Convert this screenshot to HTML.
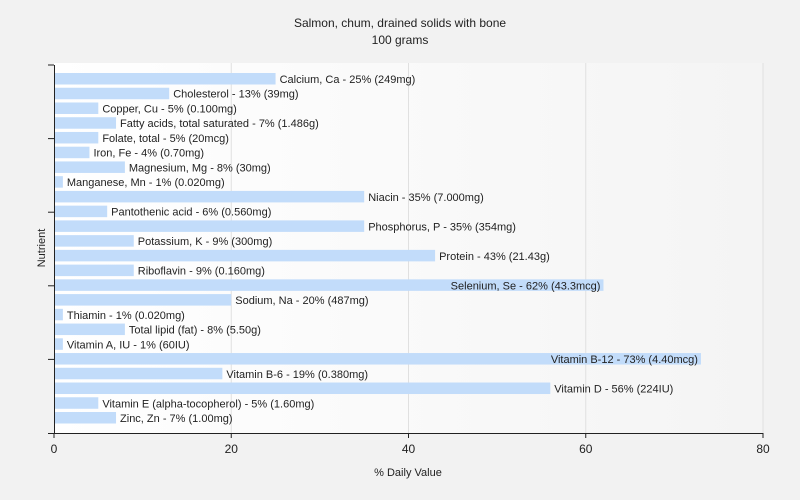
<!DOCTYPE html>
<html><head><meta charset="utf-8"><style>
html,body{margin:0;padding:0;background:#f2f2f2;font-family:"Liberation Sans",sans-serif;overflow:hidden;width:800px;height:500px;}
svg{display:block;}
svg text{font-family:"Liberation Sans",sans-serif;}
</style></head><body>
<svg id="c" width="800" height="500" xmlns="http://www.w3.org/2000/svg">
<defs><linearGradient id="bg" x1="0" x2="1" y1="0" y2="0"><stop offset="0" stop-color="#ffffff"/><stop offset="1" stop-color="#f4f4f4"/></linearGradient></defs>
<text x="400" y="27" text-anchor="middle" font-size="12" fill="#222">Salmon, chum, drained solids with bone</text>
<text x="400" y="44" text-anchor="middle" font-size="12" fill="#222">100 grams</text>
<rect x="54" y="63" width="709" height="370" fill="url(#bg)"/>
<g id="grid"></g><g id="bars"></g><g id="axes"></g>
<text x="408" y="476" text-anchor="middle" font-size="11" fill="#222">% Daily Value</text>
<text x="45" y="248" text-anchor="middle" font-size="11" fill="#222" transform="rotate(-90 45 248)">Nutrient</text>
</svg>
<script>
const categories=["Calcium, Ca","Cholesterol","Copper, Cu","Fatty acids, total saturated","Folate, total","Iron, Fe","Magnesium, Mg","Manganese, Mn","Niacin","Pantothenic acid","Phosphorus, P","Potassium, K","Protein","Riboflavin","Selenium, Se","Sodium, Na","Thiamin","Total lipid (fat)","Vitamin A, IU","Vitamin B-12","Vitamin B-6","Vitamin D","Vitamin E (alpha-tocopherol)","Zinc, Zn"];
const values=[25,13,5,7,5,4,8,1,35,6,35,9,43,9,62,20,1,8,1,73,19,56,5,7];
const amounts=["249mg","39mg","0.100mg","1.486g","20mcg","0.70mg","30mg","0.020mg","7.000mg","0.560mg","354mg","300mg","21.43g","0.160mg","43.3mcg","487mg","0.020mg","5.50g","60IU","4.40mcg","0.380mg","224IU","1.60mg","1.00mg"];
const xTicks=[0,20,40,60,80];
const NS="http://www.w3.org/2000/svg";
const x0=54,x1=763,top0=73,pitch=(412-73)/(categories.length-1);
const xs=v=>x0+v/80*(x1-x0);
const yb=i=>top0+i*pitch;
function mk(t,a,p){const e=document.createElementNS(NS,t);for(const k in a)e.setAttribute(k,a[k]);p.appendChild(e);return e;}
const grid=document.getElementById('grid'),bars=document.getElementById('bars'),axes=document.getElementById('axes');
xTicks.forEach(t=>{
 if(t>0){const g=mk('line',{x1:xs(t),x2:xs(t),y1:63,y2:433,stroke:'#e0e0e0'},grid);
 
 }
 const tk=mk('line',{x1:xs(t),x2:xs(t),y1:433,y2:438,stroke:'#222'},axes);
 
 
 const tl=mk('text',{x:xs(t),y:453,'text-anchor':'middle','font-size':12,fill:'#222'},axes);
 tl.textContent=t;
 
 
});
categories.forEach((c,i)=>{
 const y=yb(i),w=xs(values[i])-x0;
 const r=mk('rect',{x:x0+1,y:y,width:Math.max(w-1,0),height:11.5,fill:'#c2dcfa'},bars);
 
 
 const label=c+' - '+values[i]+'% ('+amounts[i]+')';
 const t=mk('text',{y:y+10,'font-size':11,fill:'#222'},bars);
 t.textContent=label;
 const tw=label.length*5.6;
 if(xs(values[i])+4+tw>x1){t.setAttribute('x',xs(values[i])-3);t.setAttribute('text-anchor','end');}
 else t.setAttribute('x',xs(values[i])+4);
 
 
});
let a=mk('line',{x1:x0+0.5,x2:x0+0.5,y1:65,y2:433,stroke:'#222'},axes);


a=mk('line',{x1:48,x2:763,y1:433.5,y2:433.5,stroke:'#222'},axes);


for(let k=0;k<5;k++){const yy=65+k*73.6;const l=mk('line',{x1:48,x2:x0,y1:yy,y2:yy,stroke:'#222'},axes);
 
 }
</script>
</body></html>
